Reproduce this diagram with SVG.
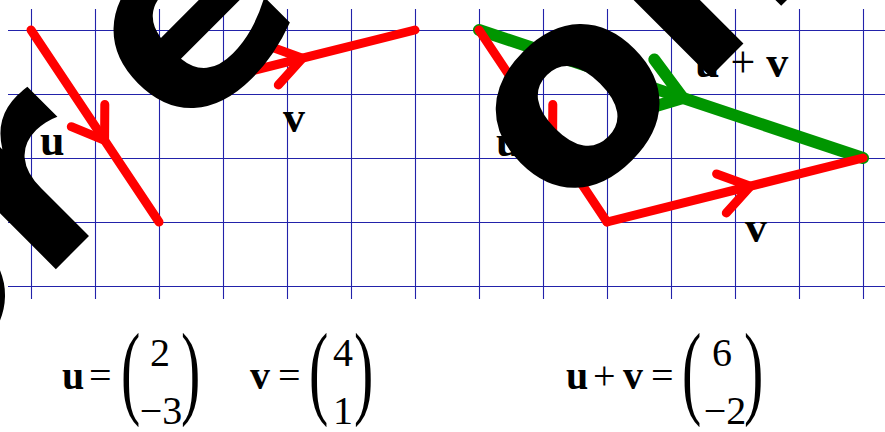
<svg xmlns="http://www.w3.org/2000/svg" width="885" height="432" viewBox="0 0 885 432">
<style>
.grid line { stroke: #2222aa; stroke-width: 1.1; }
.red { stroke: #ff0000; stroke-width: 9; fill: none; stroke-linecap: round; stroke-linejoin: round; }
.green { stroke: #009600; stroke-width: 12; fill: none; stroke-linecap: round; stroke-linejoin: round; }
.lbl { font-family: "Liberation Serif", "Times New Roman", serif; font-size: 44px; font-weight: bold; fill: #000; }
.eq { font-family: "Liberation Serif", "Times New Roman", serif; font-size: 40px; fill: #000; }
.b { font-weight: bold; }
.par { font-family: "Liberation Serif", "Times New Roman", serif; font-size: 58px; fill: #000; }
.wm { font-family: "DejaVu Sans", sans-serif; font-weight: bold; font-size: 268px; fill: #000; }
</style>
<rect width="885" height="432" fill="#fff"/>
<g id="grid" class="grid">
  <line x1="31.5" y1="9" x2="31.5" y2="299"/>
  <line x1="95.5" y1="9" x2="95.5" y2="299"/>
  <line x1="159.5" y1="9" x2="159.5" y2="299"/>
  <line x1="223.5" y1="9" x2="223.5" y2="299"/>
  <line x1="287.5" y1="9" x2="287.5" y2="299"/>
  <line x1="351.5" y1="9" x2="351.5" y2="299"/>
  <line x1="415.5" y1="9" x2="415.5" y2="299"/>
  <line x1="479.5" y1="9" x2="479.5" y2="299"/>
  <line x1="543.5" y1="9" x2="543.5" y2="299"/>
  <line x1="607.5" y1="9" x2="607.5" y2="299"/>
  <line x1="671.5" y1="9" x2="671.5" y2="299"/>
  <line x1="735.5" y1="9" x2="735.5" y2="299"/>
  <line x1="799.5" y1="9" x2="799.5" y2="299"/>
  <line x1="863.5" y1="9" x2="863.5" y2="299"/>
  <line x1="8" y1="30.5" x2="885" y2="30.5"/>
  <line x1="8" y1="94.5" x2="885" y2="94.5"/>
  <line x1="8" y1="158.5" x2="885" y2="158.5"/>
  <line x1="8" y1="222.5" x2="885" y2="222.5"/>
  <line x1="8" y1="286.5" x2="885" y2="286.5"/>
</g>
<g id="connectors">
  <g id="vec-sum" class="green">
    <line x1="479" y1="30" x2="863" y2="158"/>
    <polyline points="654.3,59.5 682.9,98 636.9,111.7"/>
  </g>
  <g id="vec-u-left" class="red">
    <line x1="31" y1="30" x2="159" y2="222"/>
    <polyline points="104.8,104.4 104.6,140.4 71.3,126.7"/>
  </g>
  <g id="vec-v-top" class="red">
    <line x1="159" y1="94" x2="415" y2="30"/>
    <polyline points="268.6,45.9 302.4,58.2 278.3,85"/>
  </g>
  <g id="vec-u-right" class="red">
    <line x1="479" y1="30" x2="607" y2="222"/>
    <polyline points="552.8,104.4 552.6,140.4 519.3,126.7"/>
  </g>
  <g id="vec-v-right" class="red">
    <line x1="607" y1="222" x2="863" y2="158"/>
    <polyline points="716.6,173.9 750.4,186.2 726.3,213"/>
  </g>
</g>
<g id="labels">
  <text id="lbl-u-left" class="lbl" x="40" y="155">u</text>
  <text id="lbl-v-top" class="lbl" x="283" y="132">v</text>
  <text id="lbl-u-right" class="lbl" x="496" y="156">u</text>
  <text id="lbl-v-right" class="lbl" x="745" y="242">v</text>
  <text id="lbl-sum" class="lbl" x="695" y="77">u <tspan font-weight="normal">+</tspan> v</text>
</g>
<g id="eq-u">
  <text class="eq b" x="62" y="389">u</text>
  <text class="eq" x="89" y="389">=</text>
  <text class="par" transform="translate(121,378) scale(1,1.8)" y="15">(</text>
  <text class="eq" x="160" y="366" text-anchor="middle">2</text>
  <text class="eq" x="161" y="424" text-anchor="middle">−3</text>
  <text class="par" transform="translate(181,378) scale(1,1.8)" y="15">)</text>
</g>
<g id="eq-v">
  <text class="eq b" x="250" y="389">v</text>
  <text class="eq" x="278" y="389">=</text>
  <text class="par" transform="translate(309,378) scale(1,1.8)" y="15">(</text>
  <text class="eq" x="343" y="366" text-anchor="middle">4</text>
  <text class="eq" x="343" y="424" text-anchor="middle">1</text>
  <text class="par" transform="translate(354,378) scale(1,1.8)" y="15">)</text>
</g>
<g id="eq-sum">
  <text class="eq b" x="566" y="389">u</text>
  <text class="eq" x="593" y="389">+</text>
  <text class="eq b" x="623" y="389">v</text>
  <text class="eq" x="651" y="389">=</text>
  <text class="par" transform="translate(682,378) scale(1,1.8)" y="15">(</text>
  <text class="eq" x="722" y="366" text-anchor="middle">6</text>
  <text class="eq" x="725" y="424" text-anchor="middle">−2</text>
  <text class="par" transform="translate(744,378) scale(1,1.8)" y="15">)</text>
</g>
<g id="watermark">
  <text class="wm" transform="translate(549,-224) rotate(-45)" text-anchor="middle"><tspan x="0" y="0">For <tspan dx="-25">evaluation</tspan></tspan></text>
  <text class="wm" transform="translate(791,-4) rotate(-45)" text-anchor="middle">only</text>
</g>
</svg>
